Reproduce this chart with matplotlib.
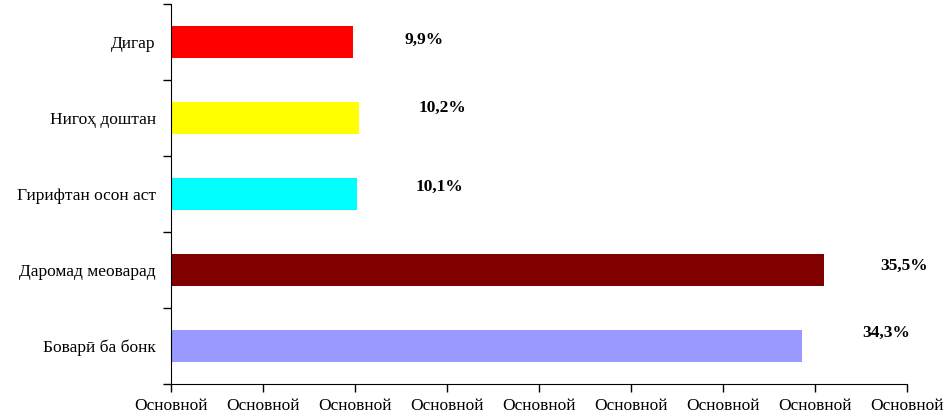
import numpy as np
import matplotlib.pyplot as plt

plt.rcParams['font.family'] = ['Liberation Serif', 'DejaVu Serif']

# data (bottom to top)
categories = ['Боварӣ ба бонк', 'Даромад меоварад', 'Гирифтан осон аст',
              'Нигоҳ доштан', 'Дигар']
values = [34.3, 35.5, 10.1, 10.2, 9.9]
labels = ['34,3%', '35,5%', '10,1%', '10,2%', '9,9%']
colors = ['#9999FF', '#800000', '#00FFFF', '#FFFF00', '#FF0000']
xticks = [0, 5, 10, 15, 20, 25, 30, 35, 40]
xtick_labels = ['Основной'] * len(xticks)

# label offsets in pixels (dx, dy) from bar end
label_offsets = [(60, 13), (56, 4), (59, 7), (60, 10), (51, 2)]

fig = plt.figure(figsize=(9.46, 4.15), dpi=100)
ax = fig.add_axes([0.1808, 0.0747, 0.778, 0.9157])

y = np.arange(len(categories))
ax.barh(y, values, height=0.41, color=colors)

for yi, v, lab, (dx, dy) in zip(y, values, labels, label_offsets):
    ax.annotate(lab, xy=(v, yi), xytext=(dx, dy), textcoords='offset pixels',
                ha='left', va='center', fontsize=12.5, fontweight='bold')

ax.set_xlim(0, 40)
ax.set_ylim(-0.5, len(categories) - 0.5)
ax.set_xticks(xticks)
ax.set_xticklabels(xtick_labels, fontsize=12.5)
ax.set_yticks(y)
ax.set_yticklabels(categories, fontsize=12.5)
ax.set_yticks(np.arange(len(categories) + 1) - 0.5, minor=True)

ax.tick_params(axis='y', which='major', length=0, pad=11)
ax.tick_params(axis='y', which='minor', length=6, width=1)
ax.tick_params(axis='x', length=6, width=1, pad=4)

for s in ['top', 'right']:
    ax.spines[s].set_visible(False)

fig.savefig('out.png', dpi=100)
